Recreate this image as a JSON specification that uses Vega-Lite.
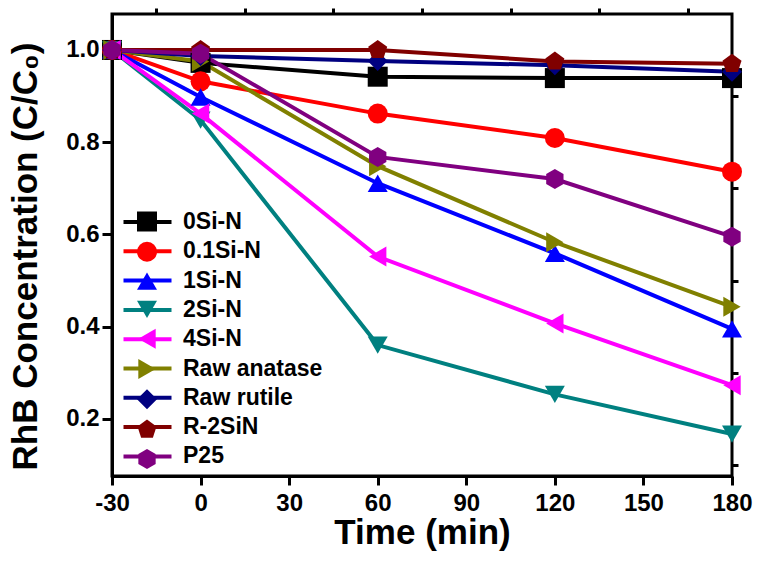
{
  "$schema": "https://vega.github.io/schema/vega-lite/v6.json",
  "width": 620,
  "height": 462,
  "autosize": {"type": "none"},
  "padding": {"left": 112, "top": 14, "right": 30, "bottom": 85},
  "background": "white",
  "resolve": {"axis": {"x": "independent", "y": "independent"}},
  "config": {
    "view": {"stroke": "black", "strokeWidth": 3},
    "font": "Liberation Sans",
    "axis": {
      "grid": false,
      "domainColor": "black",
      "domainWidth": 3,
      "tickColor": "black",
      "tickWidth": 3,
      "labelFont": "Liberation Sans",
      "labelFontWeight": "bold",
      "labelFontSize": 24,
      "labelColor": "black",
      "labelFlush": false,
      "labelOverlap": false,
      "titleFont": "Liberation Sans",
      "titleFontWeight": "bold",
      "titleColor": "black"
    }
  },
  "data": {
    "values": [
      {"series": "0Si-N", "t": -30, "c": 1.0},
      {"series": "0Si-N", "t": 0, "c": 0.972},
      {"series": "0Si-N", "t": 60, "c": 0.942},
      {"series": "0Si-N", "t": 120, "c": 0.939},
      {"series": "0Si-N", "t": 180, "c": 0.939},
      {"series": "0.1Si-N", "t": -30, "c": 1.0},
      {"series": "0.1Si-N", "t": 0, "c": 0.932},
      {"series": "0.1Si-N", "t": 60, "c": 0.862},
      {"series": "0.1Si-N", "t": 120, "c": 0.809},
      {"series": "0.1Si-N", "t": 180, "c": 0.736},
      {"series": "1Si-N", "t": -30, "c": 1.0},
      {"series": "1Si-N", "t": 0, "c": 0.898},
      {"series": "1Si-N", "t": 60, "c": 0.711},
      {"series": "1Si-N", "t": 120, "c": 0.559},
      {"series": "1Si-N", "t": 180, "c": 0.395},
      {"series": "2Si-N", "t": -30, "c": 1.0},
      {"series": "2Si-N", "t": 0, "c": 0.848},
      {"series": "2Si-N", "t": 60, "c": 0.36},
      {"series": "2Si-N", "t": 120, "c": 0.253},
      {"series": "2Si-N", "t": 180, "c": 0.167},
      {"series": "4Si-N", "t": -30, "c": 1.0},
      {"series": "4Si-N", "t": 0, "c": 0.862},
      {"series": "4Si-N", "t": 60, "c": 0.552},
      {"series": "4Si-N", "t": 120, "c": 0.407},
      {"series": "4Si-N", "t": 180, "c": 0.273},
      {"series": "Raw anatase", "t": -30, "c": 1.0},
      {"series": "Raw anatase", "t": 0, "c": 0.975},
      {"series": "Raw anatase", "t": 60, "c": 0.748},
      {"series": "Raw anatase", "t": 120, "c": 0.583},
      {"series": "Raw anatase", "t": 180, "c": 0.443},
      {"series": "Raw rutile", "t": -30, "c": 1.0},
      {"series": "Raw rutile", "t": 0, "c": 0.987},
      {"series": "Raw rutile", "t": 60, "c": 0.976},
      {"series": "Raw rutile", "t": 120, "c": 0.967},
      {"series": "Raw rutile", "t": 180, "c": 0.953},
      {"series": "R-2SiN", "t": -30, "c": 1.0},
      {"series": "R-2SiN", "t": 0, "c": 1.0},
      {"series": "R-2SiN", "t": 60, "c": 1.0},
      {"series": "R-2SiN", "t": 120, "c": 0.975},
      {"series": "R-2SiN", "t": 180, "c": 0.97},
      {"series": "P25", "t": -30, "c": 1.0},
      {"series": "P25", "t": 0, "c": 0.992},
      {"series": "P25", "t": 60, "c": 0.768},
      {"series": "P25", "t": 120, "c": 0.72},
      {"series": "P25", "t": 180, "c": 0.595}
    ]
  },
  "layer": [
    {
      "mark": {"type": "line", "strokeWidth": 4},
      "encoding": {
        "x": {
          "field": "t", "type": "quantitative",
          "scale": {"domain": [-30, 180], "nice": false, "zero": false},
          "axis": {
            "values": [-30, 0, 30, 60, 90, 120, 150, 180],
            "tickSize": 9,
            "labelPadding": 6,
            "labelExpr": "replace(datum.label, '−', '-')",
            "title": "Time (min)",
            "titleFontSize": 35,
            "titlePadding": 0
          }
        },
        "y": {
          "field": "c", "type": "quantitative",
          "scale": {"domain": [0.076, 1.078], "nice": false, "zero": false},
          "axis": {
            "values": [0.2, 0.4, 0.6, 0.8, 1.0],
            "format": ".1f",
            "tickSize": 10,
            "labelPadding": 3,
            "title": "RhB Concentration (C/C₀)",
            "titleFontSize": 35,
            "titlePadding": 22,
            "titleY": 242
          }
        },
        "stroke": {
          "field": "series", "type": "nominal",
          "sort": ["0Si-N", "0.1Si-N", "1Si-N", "2Si-N", "4Si-N", "Raw anatase", "Raw rutile", "R-2SiN", "P25"],
          "scale": {
            "range": ["#000000", "#FF0000", "#0000FF", "#008080", "#FF00FF", "#808000", "#000080", "#800000", "#800080"]
          },
          "legend": {
            "orient": "none", "legendX": 23.5, "legendY": 196,
            "title": null, "padding": 0,
            "symbolType": "M-2.4,0L2.4,0", "symbolSize": 400, "symbolStrokeWidth": 4,
            "labelFont": "Liberation Sans", "labelFontWeight": "bold", "labelFontSize": 23,
            "labelColor": "black", "labelOffset": 23.5, "rowPadding": 5.3
          }
        },
        "order": {"field": "t", "type": "quantitative"}
      }
    },
    {
      "mark": {"type": "point", "filled": true, "opacity": 1, "size": 400},
      "encoding": {
        "x": {
          "field": "t", "type": "quantitative",
          "axis": {
            "values": [-15, 15, 45, 75, 105, 135, 165],
            "tickSize": 6, "labels": false, "domain": false, "title": null
          }
        },
        "y": {
          "field": "c", "type": "quantitative",
          "axis": {
            "values": [0.1, 0.3, 0.5, 0.7, 0.9],
            "tickSize": 6, "labels": false, "domain": false, "title": null
          }
        },
        "fill": {
          "field": "series", "type": "nominal",
          "scale": {
            "domain": ["0Si-N", "0.1Si-N", "1Si-N", "2Si-N", "4Si-N", "Raw anatase", "Raw rutile", "R-2SiN", "P25"],
            "range": ["#000000", "#FF0000", "#0000FF", "#008080", "#FF00FF", "#808000", "#000080", "#800000", "#800080"]
          },
          "legend": {
            "orient": "none", "legendX": 23.5, "legendY": 196,
            "title": null, "padding": 0, "symbolSize": 400,
            "labelFont": "Liberation Sans", "labelFontWeight": "bold", "labelFontSize": 23,
            "labelOpacity": 0, "labelOffset": 23.5, "rowPadding": 3.3
          }
        },
        "shape": {
          "field": "series", "type": "nominal",
          "scale": {
            "domain": ["0Si-N", "0.1Si-N", "1Si-N", "2Si-N", "4Si-N", "Raw anatase", "Raw rutile", "R-2SiN", "P25"],
            "range": ["square", "circle", "triangle-up", "triangle-down", "triangle-left", "triangle-right", "diamond", "M0,-1L0.951,-0.309L0.588,0.809L-0.588,0.809L-0.951,-0.309Z", "M0,-1L0.866,-0.5L0.866,0.5L0,1L-0.866,0.5L-0.866,-0.5Z"]
          },
          "legend": {
            "orient": "none", "legendX": 23.5, "legendY": 196,
            "title": null, "padding": 0, "symbolSize": 400,
            "labelFont": "Liberation Sans", "labelFontWeight": "bold", "labelFontSize": 23,
            "labelOpacity": 0, "labelOffset": 23.5, "rowPadding": 3.3
          }
        }
      }
    }
  ]
}
